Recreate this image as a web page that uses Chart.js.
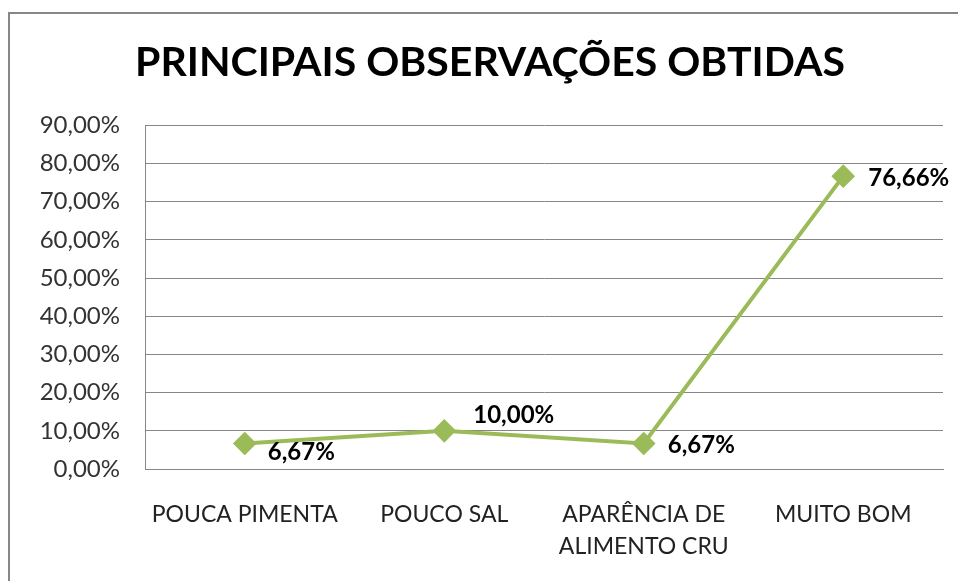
<html>
  <head>
    <script src="https://cdn.jsdelivr.net/npm/chart.js@4"></script>
    <title>Principais observações obtidas</title>
  </head>
  <body style="margin:0;background:#fff;">
    <canvas id="myChart" width="958" height="581"></canvas>
    <script>
const categories = [["POUCA PIMENTA"], ["POUCO SAL"], ["APARÊNCIA DE", "ALIMENTO CRU"], ["MUITO BOM"]];
const values = [6.67, 10.00, 6.67, 76.66];
const yMin = 0;
const yMax = 90;
const yStep = 10;

function fmt(v) {
  return v.toFixed(2).replace('.', ',') + '%';
}

// where each value label sits, relative to its point
const labelOffsets = [[23, 9], [29, -16], [24, 2], [25, 2]];

const frame = {
  id: 'frame',
  beforeDraw(chart) {
    const c = chart.ctx;
    c.save();
    c.fillStyle = '#fff';
    c.fillRect(0, 0, chart.width, chart.height);
    c.strokeStyle = '#878787';
    c.lineWidth = 2;
    c.strokeRect(9, 13, 1000, 1000);
    c.restore();
  }
};

const valueLabels = {
  id: 'valueLabels',
  afterDatasetsDraw(chart) {
    const c = chart.ctx;
    const pts = chart.getDatasetMeta(0).data;
    c.save();
    c.font = 'bold 24px Lato';
    c.fillStyle = '#000';
    c.textAlign = 'left';
    c.textBaseline = 'middle';
    pts.forEach((p, i) => {
      c.fillText(fmt(values[i]), p.x + labelOffsets[i][0], p.y + labelOffsets[i][1]);
    });
    c.restore();
  }
};

var ctx = document.getElementById("myChart");
var myChart = new Chart(ctx, {
  type: 'line',
  data: {
    labels: categories,
    datasets: [{
      data: values,
      borderColor: '#9BBB59',
      backgroundColor: '#9BBB59',
      borderWidth: 4,
      pointStyle: 'rectRot',
      pointRadius: 9,
      pointHoverRadius: 9,
      tension: 0
    }]
  },
  plugins: [frame, valueLabels],
  options: {
    responsive: false,
    animation: false,
    layout: {
      padding: { top: 14, left: 37, right: 15, bottom: 0 }
    },
    plugins: {
      legend: { display: false },
      tooltip: { enabled: false },
      title: {
        display: true,
        text: 'PRINCIPAIS OBSERVAÇÕES OBTIDAS',
        color: '#000',
        font: { family: 'Lato', size: 41, weight: 'bold', lineHeight: 1.2 },
        padding: { top: 24, bottom: 38 }
      }
    },
    scales: {
      x: {
        offset: true,
        grid: { display: false },
        border: { display: true, color: '#878787', width: 1 },
        ticks: {
          color: '#222',
          font: { family: 'Lato', size: 23, lineHeight: 1.4 },
          padding: 21,
          maxRotation: 0,
          autoSkip: false
        },
        afterFit(scale) { scale.height = 112; }
      },
      y: {
        min: yMin,
        max: yMax,
        grid: { color: '#878787', lineWidth: 1, drawTicks: false },
        border: { display: true, color: '#878787', width: 1 },
        ticks: {
          stepSize: yStep,
          color: '#333',
          font: { family: 'Lato', size: 24 },
          padding: 25,
          callback: (v) => fmt(v)
        },
        afterFit(scale) { scale.width = 108; }
      }
    }
  }
});
    </script>
  </body>
</html>
